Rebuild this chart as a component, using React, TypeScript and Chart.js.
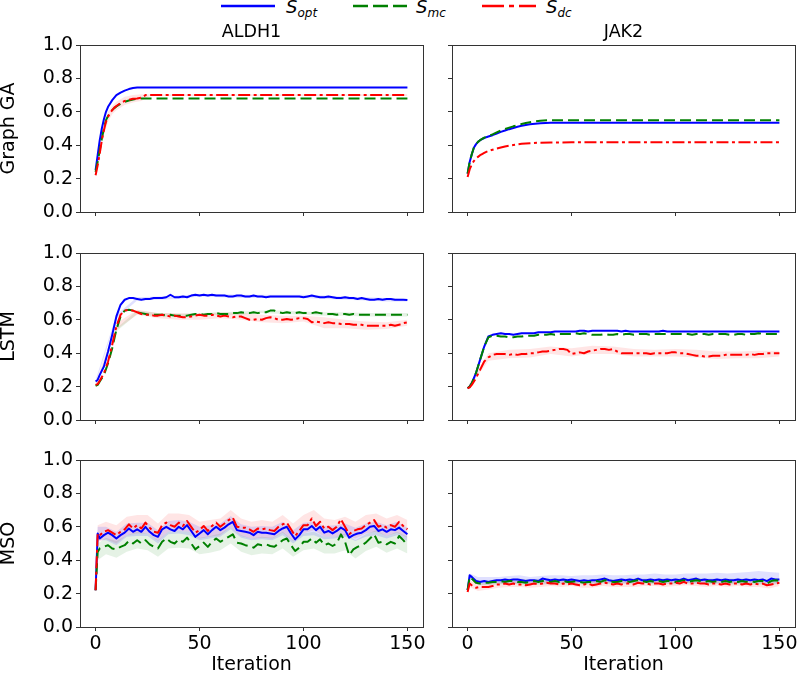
import React, { useEffect, useRef } from "react";
import { Chart, registerables } from "chart.js";

Chart.register(...registerables);

const FONT = "DejaVu Sans";

// ---------- labels ----------
const METHODS = ["Graph GA", "LSTM", "MSO"];
const TARGETS = ["ALDH1", "JAK2"];
const X_TITLE = "Iteration";
const X_TICKS = [0, 50, 100, 150];
const Y_TICKS = [0, 0.2, 0.4, 0.6, 0.8, 1.0];

// ---------- iteration grids ----------
const GA_ITER = [0, 1, 2, 3, 4, 5, 6, 7, 8, 9, 10, 12, 14, 16, 18, 20, 22, 24, 26, 28, 30, 35, 40, 50, 75, 100, 125, 150];
const FINE_ITER = [0, 1, 2, 4, 6, 8, 10, 12, 14, 16, 18, 20, 22, 24, 26, 28, 30, 32, 34, 36, 38, 40, 42, 44, 46, 48, 50, 52, 54, 56, 58, 60, 62, 64, 66, 68, 70, 72, 74, 76, 78, 80, 82, 84, 86, 88, 90, 92, 94, 96, 98, 100, 102, 104, 106, 108, 110, 112, 114, 116, 118, 120, 122, 124, 126, 128, 130, 132, 134, 136, 138, 140, 142, 144, 146, 148, 150];
const GA_BAND_ITER = [0, 2, 4, 6, 8, 10, 14, 18, 22, 26, 30, 150];
const BAND5_ITER = [0, 1, 5, 10, 15, 20, 25, 30, 35, 40, 45, 50, 55, 60, 65, 70, 75, 80, 85, 90, 95, 100, 105, 110, 115, 120, 125, 130, 135, 140, 145, 150];
const BAND10_ITER = [0, 10, 20, 30, 40, 50, 60, 70, 80, 90, 100, 110, 120, 130, 140, 150];

// ---------- Graph GA / ALDH1 ----------
const GA_ALDH1_OPT = [0.25, 0.34, 0.43, 0.5, 0.555, 0.6, 0.63, 0.65, 0.67, 0.685, 0.7, 0.715, 0.727, 0.736, 0.742, 0.745, 0.746, 0.746, 0.746, 0.746, 0.746, 0.746, 0.746, 0.746, 0.746, 0.746, 0.746, 0.746];
const GA_ALDH1_MC = [0.24, 0.3, 0.37, 0.44, 0.5, 0.55, 0.575, 0.595, 0.61, 0.622, 0.632, 0.648, 0.66, 0.668, 0.674, 0.678, 0.68, 0.68, 0.68, 0.68, 0.68, 0.68, 0.68, 0.68, 0.68, 0.68, 0.68, 0.68];
const GA_ALDH1_DC = [0.22, 0.28, 0.35, 0.43, 0.49, 0.54, 0.57, 0.595, 0.61, 0.625, 0.635, 0.652, 0.665, 0.672, 0.678, 0.68, 0.685, 0.7, 0.7, 0.7, 0.7, 0.7, 0.7, 0.7, 0.7, 0.7, 0.7, 0.7];
const GA_ALDH1_DC_HI = [0.23, 0.37, 0.52, 0.6, 0.635, 0.66, 0.69, 0.7, 0.705, 0.705, 0.705, 0.705];
const GA_ALDH1_DC_LO = [0.21, 0.33, 0.46, 0.54, 0.585, 0.61, 0.64, 0.655, 0.665, 0.695, 0.695, 0.695];

// ---------- Graph GA / JAK2 ----------
const GA_JAK2_OPT = [0.23, 0.3, 0.345, 0.385, 0.405, 0.42, 0.43, 0.437, 0.443, 0.448, 0.452, 0.46, 0.47, 0.48, 0.488, 0.496, 0.503, 0.51, 0.516, 0.521, 0.525, 0.532, 0.535, 0.535, 0.535, 0.535, 0.535, 0.535];
const GA_JAK2_MC = [0.23, 0.3, 0.345, 0.385, 0.405, 0.42, 0.43, 0.438, 0.445, 0.45, 0.455, 0.465, 0.477, 0.488, 0.497, 0.505, 0.513, 0.52, 0.527, 0.533, 0.538, 0.547, 0.55, 0.55, 0.55, 0.55, 0.55, 0.55];
const GA_JAK2_DC = [0.21, 0.255, 0.285, 0.305, 0.32, 0.33, 0.34, 0.347, 0.354, 0.36, 0.365, 0.373, 0.38, 0.386, 0.392, 0.397, 0.401, 0.405, 0.408, 0.41, 0.412, 0.415, 0.416, 0.417, 0.417, 0.417, 0.417, 0.417];

// ---------- LSTM / ALDH1 ----------
const LSTM_ALDH1_OPT = [0.23, 0.24, 0.27, 0.32, 0.41, 0.51,
  0.62, 0.69, 0.72, 0.73, 0.73, 0.725, 0.72, 0.725, 0.725, 0.73,
  0.73, 0.73, 0.735, 0.75, 0.735, 0.735, 0.74, 0.735, 0.745, 0.75,
  0.745, 0.75, 0.745, 0.75, 0.745, 0.745, 0.745, 0.74, 0.74, 0.745,
  0.745, 0.74, 0.74, 0.745, 0.74, 0.74, 0.735, 0.74, 0.74, 0.74,
  0.74, 0.74, 0.74, 0.74, 0.74, 0.735, 0.74, 0.745, 0.74, 0.735,
  0.735, 0.74, 0.735, 0.73, 0.73, 0.735, 0.73, 0.73, 0.725, 0.73,
  0.725, 0.72, 0.72, 0.725, 0.72, 0.725, 0.725, 0.72, 0.72, 0.72, 0.718];
const LSTM_ALDH1_MC = [0.205, 0.21, 0.23, 0.27, 0.34, 0.43,
  0.54, 0.62, 0.655, 0.66, 0.655, 0.645, 0.64, 0.635, 0.63, 0.63,
  0.63, 0.63, 0.625, 0.63, 0.625, 0.625, 0.625, 0.625, 0.63, 0.635,
  0.635, 0.63, 0.635, 0.635, 0.64, 0.635, 0.635, 0.635, 0.64, 0.64,
  0.645, 0.64, 0.64, 0.645, 0.64, 0.645, 0.645, 0.655, 0.655, 0.645,
  0.64, 0.645, 0.64, 0.64, 0.645, 0.64, 0.64, 0.64, 0.645, 0.64,
  0.635, 0.635, 0.635, 0.63, 0.635, 0.635, 0.63, 0.635, 0.63, 0.63,
  0.63, 0.63, 0.63, 0.63, 0.63, 0.63, 0.63, 0.63, 0.63, 0.63, 0.63];
const LSTM_ALDH1_DC = [0.21, 0.215, 0.235, 0.28, 0.35, 0.45,
  0.56, 0.63, 0.655, 0.66, 0.655, 0.645, 0.635, 0.63, 0.63, 0.625,
  0.625, 0.63, 0.625, 0.62, 0.625, 0.62, 0.615, 0.615, 0.62, 0.625,
  0.63, 0.625, 0.625, 0.63, 0.625, 0.62, 0.625, 0.62, 0.615, 0.62,
  0.62, 0.61, 0.6, 0.6, 0.605, 0.6, 0.61, 0.615, 0.61, 0.6,
  0.6, 0.605, 0.6, 0.605, 0.61, 0.61, 0.605, 0.585, 0.59, 0.585,
  0.58, 0.585, 0.58, 0.58, 0.575, 0.575, 0.575, 0.57, 0.57, 0.57,
  0.565, 0.565, 0.565, 0.565, 0.565, 0.565, 0.57, 0.565, 0.57, 0.58, 0.585];
const LSTM_ALDH1_OPT_HI = [0.24, 0.63, 0.735, 0.74, 0.745, 0.755, 0.755, 0.75, 0.75, 0.75, 0.75, 0.745, 0.74, 0.735, 0.73, 0.725];
const LSTM_ALDH1_OPT_LO = [0.22, 0.61, 0.715, 0.72, 0.725, 0.74, 0.735, 0.73, 0.73, 0.73, 0.73, 0.725, 0.72, 0.715, 0.71, 0.71];
const LSTM_ALDH1_MC_HI = [0.21, 0.55, 0.655, 0.64, 0.635, 0.64, 0.645, 0.65, 0.655, 0.655, 0.65, 0.645, 0.645, 0.64, 0.64, 0.64];
const LSTM_ALDH1_MC_LO = [0.2, 0.53, 0.635, 0.62, 0.615, 0.625, 0.63, 0.63, 0.64, 0.635, 0.63, 0.625, 0.625, 0.62, 0.62, 0.62];
const LSTM_ALDH1_DC_HI = [0.22, 0.58, 0.66, 0.64, 0.64, 0.635, 0.645, 0.64, 0.63, 0.625, 0.625, 0.615, 0.6, 0.59, 0.585, 0.6];
const LSTM_ALDH1_DC_LO = [0.2, 0.54, 0.63, 0.61, 0.6, 0.6, 0.61, 0.6, 0.585, 0.58, 0.59, 0.55, 0.55, 0.54, 0.545, 0.565];

// ---------- LSTM / JAK2 ----------
const LSTM_JAK2_OPT = [0.19, 0.2, 0.22, 0.28, 0.36, 0.44,
  0.5, 0.51, 0.515, 0.52, 0.515, 0.515, 0.51, 0.515, 0.52, 0.52,
  0.52, 0.52, 0.525, 0.525, 0.525, 0.525, 0.53, 0.53, 0.53, 0.53,
  0.53, 0.53, 0.535, 0.535, 0.53, 0.535, 0.535, 0.535, 0.535, 0.535,
  0.535, 0.535, 0.53, 0.535, 0.53, 0.53, 0.53, 0.53, 0.53, 0.53,
  0.53, 0.53, 0.535, 0.53, 0.53, 0.53, 0.53, 0.53, 0.53, 0.53,
  0.53, 0.53, 0.53, 0.53, 0.53, 0.53, 0.53, 0.53, 0.53, 0.53,
  0.53, 0.53, 0.53, 0.53, 0.53, 0.53, 0.53, 0.53, 0.53, 0.53, 0.53];
const LSTM_JAK2_MC = [0.19, 0.2, 0.22, 0.28, 0.36, 0.44,
  0.495, 0.505, 0.505, 0.5, 0.5, 0.495, 0.495, 0.5, 0.5, 0.505,
  0.505, 0.505, 0.51, 0.51, 0.51, 0.515, 0.51, 0.515, 0.515, 0.515,
  0.515, 0.52, 0.515, 0.52, 0.515, 0.51, 0.51, 0.51, 0.515, 0.51,
  0.51, 0.515, 0.51, 0.515, 0.515, 0.51, 0.515, 0.515, 0.515, 0.51,
  0.515, 0.515, 0.515, 0.515, 0.515, 0.515, 0.515, 0.515, 0.515, 0.51,
  0.515, 0.515, 0.515, 0.51, 0.515, 0.515, 0.515, 0.515, 0.51, 0.51,
  0.515, 0.515, 0.51, 0.515, 0.515, 0.52, 0.515, 0.515, 0.515, 0.515, 0.515];
const LSTM_JAK2_DC = [0.19, 0.195, 0.21, 0.25, 0.3, 0.35,
  0.375, 0.39, 0.395, 0.395, 0.395, 0.39, 0.395, 0.39, 0.395, 0.395,
  0.4, 0.4, 0.405, 0.41, 0.41, 0.415, 0.42, 0.425, 0.425, 0.42,
  0.395, 0.4, 0.405, 0.4, 0.41, 0.415, 0.42, 0.425, 0.425, 0.42,
  0.425, 0.41, 0.4, 0.4, 0.4, 0.4, 0.4, 0.4, 0.4, 0.395,
  0.4, 0.4, 0.4, 0.4, 0.405, 0.405, 0.4, 0.4, 0.395, 0.39,
  0.385, 0.385, 0.38, 0.38, 0.385, 0.385, 0.385, 0.39, 0.39, 0.39,
  0.39, 0.39, 0.39, 0.395, 0.39, 0.395, 0.395, 0.4, 0.4, 0.4, 0.4];
const LSTM_JAK2_DC_HI = [0.2, 0.4, 0.42, 0.425, 0.44, 0.43, 0.445, 0.44, 0.425, 0.42, 0.425, 0.42, 0.41, 0.41, 0.415, 0.415];
const LSTM_JAK2_DC_LO = [0.18, 0.355, 0.37, 0.375, 0.395, 0.38, 0.395, 0.395, 0.38, 0.38, 0.38, 0.375, 0.365, 0.37, 0.37, 0.38];

// ---------- MSO / ALDH1 ----------
const MSO_ALDH1_OPT = [0.22, 0.56, 0.53, 0.55, 0.565, 0.55,
  0.53, 0.55, 0.565, 0.59, 0.57, 0.585, 0.57, 0.6, 0.57, 0.55,
  0.54, 0.585, 0.6, 0.585, 0.575, 0.6, 0.585, 0.61, 0.575, 0.54,
  0.56, 0.58, 0.555, 0.58, 0.6, 0.58, 0.595, 0.615, 0.63, 0.58,
  0.575, 0.57, 0.565, 0.55, 0.57, 0.565, 0.565, 0.56, 0.555, 0.575,
  0.59, 0.6, 0.56, 0.525, 0.55, 0.585, 0.585, 0.605, 0.58, 0.6,
  0.565, 0.575, 0.56, 0.575, 0.595, 0.58, 0.535, 0.55, 0.56, 0.565,
  0.58, 0.6, 0.605, 0.575, 0.585, 0.57, 0.585, 0.58, 0.595, 0.575, 0.555];
const MSO_ALDH1_MC = [0.22, 0.45, 0.47, 0.48, 0.49, 0.47,
  0.465, 0.48, 0.49, 0.515, 0.5, 0.52, 0.5, 0.52, 0.495, 0.48,
  0.47, 0.51, 0.53, 0.51, 0.5, 0.525, 0.51, 0.535, 0.5, 0.465,
  0.485, 0.505, 0.48, 0.51, 0.53, 0.51, 0.525, 0.54, 0.555, 0.505,
  0.5, 0.49, 0.485, 0.475, 0.495, 0.49, 0.495, 0.485, 0.48, 0.5,
  0.52, 0.53, 0.49, 0.455, 0.475, 0.51, 0.51, 0.53, 0.505, 0.525,
  0.49, 0.5, 0.485, 0.5, 0.555, 0.51, 0.43, 0.465, 0.48, 0.49,
  0.505, 0.53, 0.555, 0.505, 0.51, 0.495, 0.51, 0.5, 0.545, 0.52, 0.49];
const MSO_ALDH1_DC = [0.22, 0.56, 0.55, 0.57, 0.58, 0.565,
  0.55, 0.57, 0.585, 0.615, 0.59, 0.61, 0.59, 0.625, 0.595, 0.57,
  0.565, 0.61, 0.625, 0.61, 0.6, 0.625, 0.605, 0.635, 0.6, 0.565,
  0.58, 0.605, 0.575, 0.605, 0.625, 0.6, 0.62, 0.64, 0.655, 0.6,
  0.595, 0.595, 0.585, 0.57, 0.59, 0.585, 0.59, 0.58, 0.575, 0.6,
  0.615, 0.625, 0.585, 0.545, 0.575, 0.61, 0.61, 0.65, 0.605, 0.63,
  0.59, 0.6, 0.58, 0.6, 0.645, 0.6, 0.555, 0.575, 0.585, 0.59,
  0.61, 0.625, 0.64, 0.6, 0.61, 0.595, 0.61, 0.6, 0.63, 0.605, 0.585];
const MSO_ALDH1_OPT_HI = [0.23, 0.6, 0.6, 0.57, 0.62, 0.625, 0.625, 0.58, 0.635, 0.64, 0.63, 0.6, 0.61, 0.62, 0.665, 0.615, 0.6, 0.605, 0.6, 0.63, 0.58, 0.625, 0.63, 0.605, 0.61, 0.62, 0.595, 0.62, 0.63, 0.61, 0.63, 0.595];
const MSO_ALDH1_OPT_LO = [0.21, 0.52, 0.52, 0.49, 0.54, 0.545, 0.545, 0.5, 0.555, 0.56, 0.55, 0.52, 0.53, 0.54, 0.585, 0.535, 0.52, 0.525, 0.52, 0.55, 0.5, 0.545, 0.55, 0.525, 0.53, 0.54, 0.515, 0.54, 0.55, 0.53, 0.55, 0.515];
const MSO_ALDH1_MC_HI = [0.23, 0.5, 0.535, 0.515, 0.55, 0.57, 0.56, 0.52, 0.57, 0.575, 0.57, 0.535, 0.545, 0.56, 0.6, 0.55, 0.53, 0.54, 0.535, 0.57, 0.52, 0.56, 0.57, 0.54, 0.54, 0.56, 0.52, 0.555, 0.58, 0.545, 0.57, 0.54];
const MSO_ALDH1_MC_LO = [0.21, 0.4, 0.435, 0.415, 0.45, 0.47, 0.46, 0.42, 0.47, 0.475, 0.47, 0.435, 0.445, 0.46, 0.5, 0.45, 0.43, 0.44, 0.435, 0.47, 0.42, 0.46, 0.47, 0.44, 0.44, 0.46, 0.41, 0.455, 0.48, 0.445, 0.47, 0.44];
const MSO_ALDH1_DC_HI = [0.23, 0.61, 0.63, 0.61, 0.66, 0.67, 0.67, 0.62, 0.68, 0.68, 0.67, 0.63, 0.64, 0.65, 0.7, 0.65, 0.63, 0.64, 0.63, 0.67, 0.62, 0.67, 0.7, 0.65, 0.64, 0.66, 0.63, 0.67, 0.68, 0.65, 0.67, 0.64];
const MSO_ALDH1_DC_LO = [0.21, 0.51, 0.525, 0.5, 0.55, 0.56, 0.56, 0.515, 0.57, 0.575, 0.57, 0.53, 0.54, 0.55, 0.6, 0.545, 0.53, 0.535, 0.53, 0.565, 0.515, 0.56, 0.58, 0.54, 0.54, 0.55, 0.53, 0.56, 0.57, 0.545, 0.565, 0.535];

// ---------- MSO / JAK2 ----------
const MSO_JAK2_OPT = [0.22, 0.31, 0.3, 0.275, 0.27, 0.275,
  0.27, 0.275, 0.28, 0.28, 0.285, 0.28, 0.285, 0.285, 0.28, 0.275,
  0.28, 0.28, 0.275, 0.29, 0.285, 0.28, 0.285, 0.28, 0.285, 0.28,
  0.285, 0.28, 0.275, 0.28, 0.275, 0.28, 0.28, 0.285, 0.29, 0.28,
  0.275, 0.28, 0.285, 0.28, 0.285, 0.28, 0.29, 0.28, 0.28, 0.285,
  0.28, 0.285, 0.28, 0.285, 0.28, 0.285, 0.28, 0.29, 0.28, 0.285,
  0.29, 0.28, 0.285, 0.28, 0.28, 0.285, 0.28, 0.285, 0.28, 0.28,
  0.285, 0.28, 0.285, 0.28, 0.285, 0.28, 0.285, 0.275, 0.29, 0.285, 0.285];
const MSO_JAK2_MC = [0.22, 0.3, 0.29, 0.265, 0.26, 0.265,
  0.265, 0.27, 0.27, 0.275, 0.27, 0.275, 0.275, 0.27, 0.27, 0.265,
  0.27, 0.275, 0.27, 0.275, 0.275, 0.27, 0.275, 0.27, 0.275, 0.27,
  0.27, 0.275, 0.27, 0.265, 0.27, 0.27, 0.275, 0.27, 0.28, 0.275,
  0.27, 0.27, 0.275, 0.275, 0.27, 0.275, 0.28, 0.275, 0.27, 0.275,
  0.27, 0.275, 0.27, 0.275, 0.275, 0.27, 0.275, 0.28, 0.27, 0.275,
  0.28, 0.275, 0.27, 0.275, 0.27, 0.275, 0.27, 0.275, 0.27, 0.275,
  0.27, 0.275, 0.27, 0.275, 0.27, 0.275, 0.275, 0.26, 0.275, 0.28, 0.275];
const MSO_JAK2_DC = [0.21, 0.26, 0.25, 0.235, 0.24, 0.24,
  0.24, 0.245, 0.255, 0.255, 0.26, 0.255, 0.26, 0.255, 0.255, 0.25,
  0.255, 0.26, 0.255, 0.26, 0.265, 0.26, 0.26, 0.255, 0.26, 0.255,
  0.26, 0.255, 0.25, 0.255, 0.26, 0.25, 0.255, 0.26, 0.265, 0.26,
  0.255, 0.26, 0.255, 0.26, 0.26, 0.255, 0.265, 0.26, 0.26, 0.255,
  0.26, 0.26, 0.255, 0.26, 0.26, 0.265, 0.26, 0.27, 0.26, 0.26,
  0.265, 0.26, 0.26, 0.255, 0.26, 0.26, 0.255, 0.26, 0.255, 0.26,
  0.26, 0.255, 0.26, 0.255, 0.26, 0.255, 0.26, 0.25, 0.255, 0.26, 0.265];
const MSO_JAK2_OPT_HI = [0.23, 0.32, 0.3, 0.3, 0.3, 0.305, 0.31, 0.3, 0.305, 0.31, 0.31, 0.305, 0.31, 0.31, 0.315, 0.31, 0.31, 0.315, 0.315, 0.32, 0.315, 0.315, 0.32, 0.32, 0.32, 0.325, 0.32, 0.325, 0.33, 0.335, 0.33, 0.325];
const MSO_JAK2_OPT_LO = [0.21, 0.29, 0.255, 0.255, 0.26, 0.26, 0.26, 0.26, 0.26, 0.26, 0.265, 0.26, 0.26, 0.26, 0.265, 0.26, 0.26, 0.26, 0.265, 0.26, 0.26, 0.26, 0.265, 0.26, 0.26, 0.26, 0.26, 0.26, 0.26, 0.26, 0.26, 0.26];
const MSO_JAK2_MC_HI = [0.23, 0.31, 0.28, 0.28, 0.285, 0.29, 0.29, 0.285, 0.29, 0.29, 0.29, 0.285, 0.285, 0.285, 0.295, 0.285, 0.29, 0.29, 0.29, 0.29, 0.29, 0.29, 0.295, 0.295, 0.29, 0.29, 0.29, 0.29, 0.29, 0.29, 0.285, 0.29];
const MSO_JAK2_MC_LO = [0.21, 0.29, 0.25, 0.25, 0.255, 0.26, 0.255, 0.25, 0.255, 0.255, 0.255, 0.255, 0.255, 0.255, 0.26, 0.255, 0.26, 0.26, 0.26, 0.255, 0.26, 0.255, 0.26, 0.26, 0.255, 0.26, 0.255, 0.255, 0.255, 0.255, 0.245, 0.26];
const MSO_JAK2_DC_HI = [0.22, 0.28, 0.26, 0.26, 0.27, 0.275, 0.275, 0.27, 0.275, 0.275, 0.275, 0.275, 0.27, 0.275, 0.28, 0.275, 0.275, 0.275, 0.28, 0.275, 0.275, 0.28, 0.285, 0.28, 0.275, 0.28, 0.275, 0.28, 0.275, 0.275, 0.27, 0.28];
const MSO_JAK2_DC_LO = [0.2, 0.24, 0.215, 0.225, 0.235, 0.24, 0.24, 0.235, 0.24, 0.245, 0.24, 0.245, 0.235, 0.235, 0.245, 0.24, 0.24, 0.24, 0.245, 0.245, 0.24, 0.245, 0.25, 0.245, 0.24, 0.245, 0.24, 0.245, 0.24, 0.24, 0.23, 0.245];

// ---------- styles ----------
const C_OPT = "#0000ff";
const C_MC = "#008000";
const C_DC = "#ff0000";
const B_OPT = "rgba(0,0,255,0.12)";
const B_MC = "rgba(0,128,0,0.10)";
const B_DC = "rgba(255,0,0,0.10)";
const DASH_MC = [11, 5];
const DASH_DC = [12, 3.5, 3, 3.5];

type Band = { iter: number[]; hi: number[]; lo: number[]; color: string };
type PanelData = { iter: number[]; opt: number[]; mc: number[]; dc: number[]; bands: Band[] };

const PANELS: PanelData[][] = [
  [
    { iter: GA_ITER, opt: GA_ALDH1_OPT, mc: GA_ALDH1_MC, dc: GA_ALDH1_DC,
      bands: [{ iter: GA_BAND_ITER, hi: GA_ALDH1_DC_HI, lo: GA_ALDH1_DC_LO, color: B_DC }] },
    { iter: GA_ITER, opt: GA_JAK2_OPT, mc: GA_JAK2_MC, dc: GA_JAK2_DC, bands: [] },
  ],
  [
    { iter: FINE_ITER, opt: LSTM_ALDH1_OPT, mc: LSTM_ALDH1_MC, dc: LSTM_ALDH1_DC,
      bands: [
        { iter: BAND10_ITER, hi: LSTM_ALDH1_OPT_HI, lo: LSTM_ALDH1_OPT_LO, color: B_OPT },
        { iter: BAND10_ITER, hi: LSTM_ALDH1_MC_HI, lo: LSTM_ALDH1_MC_LO, color: B_MC },
        { iter: BAND10_ITER, hi: LSTM_ALDH1_DC_HI, lo: LSTM_ALDH1_DC_LO, color: B_DC },
      ] },
    { iter: FINE_ITER, opt: LSTM_JAK2_OPT, mc: LSTM_JAK2_MC, dc: LSTM_JAK2_DC,
      bands: [{ iter: BAND10_ITER, hi: LSTM_JAK2_DC_HI, lo: LSTM_JAK2_DC_LO, color: B_DC }] },
  ],
  [
    { iter: FINE_ITER, opt: MSO_ALDH1_OPT, mc: MSO_ALDH1_MC, dc: MSO_ALDH1_DC,
      bands: [
        { iter: BAND5_ITER, hi: MSO_ALDH1_OPT_HI, lo: MSO_ALDH1_OPT_LO, color: B_OPT },
        { iter: BAND5_ITER, hi: MSO_ALDH1_MC_HI, lo: MSO_ALDH1_MC_LO, color: B_MC },
        { iter: BAND5_ITER, hi: MSO_ALDH1_DC_HI, lo: MSO_ALDH1_DC_LO, color: B_DC },
      ] },
    { iter: FINE_ITER, opt: MSO_JAK2_OPT, mc: MSO_JAK2_MC, dc: MSO_JAK2_DC,
      bands: [
        { iter: BAND5_ITER, hi: MSO_JAK2_OPT_HI, lo: MSO_JAK2_OPT_LO, color: B_OPT },
        { iter: BAND5_ITER, hi: MSO_JAK2_MC_HI, lo: MSO_JAK2_MC_LO, color: B_MC },
        { iter: BAND5_ITER, hi: MSO_JAK2_DC_HI, lo: MSO_JAK2_DC_LO, color: B_DC },
      ] },
  ],
];

// ---------- layout ----------
const COL_GEOM = [
  { left: 0, yw: 80, w: 431, padRight: 8 },
  { left: 412, yw: 40, w: 385, padRight: 2 },
];
const ROW_GEOM = [
  { top: 8, padTop: 37, xh: 10, h: 214 },
  { top: 238, padTop: 15, xh: 10, h: 192 },
  { top: 445, padTop: 15, xh: 46, h: 228 },
];

const zip = (xs: number[], ys: number[]) => xs.map((x, i) => ({ x, y: ys[i] }));

const framePlugin = {
  id: "frame",
  afterDraw(chart: any) {
    const { ctx, chartArea: a } = chart;
    ctx.save();
    ctx.strokeStyle = "#333";
    ctx.lineWidth = 1;
    ctx.strokeRect(Math.round(a.left) + 0.5, Math.round(a.top) + 0.5, Math.round(a.right - a.left), Math.round(a.bottom - a.top));
    ctx.restore();
  },
};

const panelTitlePlugin = {
  id: "panelTitle",
  afterDraw(chart: any, _args: any, opts: any) {
    if (!opts || !opts.text) return;
    const { ctx, chartArea: a } = chart;
    ctx.save();
    ctx.font = `${opts.size}px "${FONT}"`;
    ctx.fillStyle = "#000";
    ctx.textAlign = "center";
    ctx.textBaseline = "middle";
    ctx.fillText(opts.text, (a.left + a.right) / 2, a.top - opts.offset);
    ctx.restore();
  },
};

function makeConfig(row: number, col: number): any {
  const p = PANELS[row][col];
  const cg = COL_GEOM[col];
  const rg = ROW_GEOM[row];
  const isLeft = col === 0;
  const isBottom = row === 2;
  const datasets: any[] = [];
  p.bands.forEach((b) => {
    datasets.push({ data: zip(b.iter, b.hi), borderWidth: 0, borderColor: "rgba(0,0,0,0)", pointRadius: 0, backgroundColor: b.color, fill: "+1", order: 5 });
    datasets.push({ data: zip(b.iter, b.lo), borderWidth: 0, borderColor: "rgba(0,0,0,0)", pointRadius: 0, fill: false, order: 5 });
  });
  datasets.push({ label: "S_opt", data: zip(p.iter, p.opt), borderColor: C_OPT, borderWidth: 2, pointRadius: 0, fill: false, order: 2, borderCapStyle: "butt", borderJoinStyle: "round" });
  datasets.push({ label: "S_mc", data: zip(p.iter, p.mc), borderColor: C_MC, borderWidth: 2, borderDash: DASH_MC, pointRadius: 0, fill: false, order: 1, borderCapStyle: "butt", borderJoinStyle: "round" });
  datasets.push({ label: "S_dc", data: zip(p.iter, p.dc), borderColor: C_DC, borderWidth: 2, borderDash: DASH_DC, pointRadius: 0, fill: false, order: 0, borderCapStyle: "butt", borderJoinStyle: "round" });

  return {
    type: "line",
    data: { datasets },
    plugins: [framePlugin, panelTitlePlugin],
    options: {
      responsive: false,
      maintainAspectRatio: false,
      animation: false,
      devicePixelRatio: 1,
      events: [],
      layout: { padding: { left: 0, right: cg.padRight, top: rg.padTop, bottom: 0 } },
      plugins: {
        legend: { display: false },
        tooltip: { enabled: false },
        panelTitle: { text: row === 0 ? TARGETS[col] : "", size: 17.5, offset: 12.5 },
      },
      scales: {
        x: {
          type: "linear",
          min: -7.5,
          max: 157.5,
          afterBuildTicks: (s: any) => { s.ticks = X_TICKS.map((v) => ({ value: v })); },
          ticks: { display: isBottom, font: { family: FONT, size: 19 }, color: "#000", padding: 2, maxRotation: 0, autoSkip: false },
          grid: { drawOnChartArea: false, drawTicks: true, tickLength: 4, color: "#333" },
          border: { display: true, color: "#333", width: 1 },
          title: { display: isBottom, text: X_TITLE, font: { family: FONT, size: 19 }, color: "#000", padding: { top: 0, bottom: -3 } },
          afterFit: (s: any) => { s.height = rg.xh; s.paddingLeft = 0; s.paddingRight = 0; },
        },
        y: {
          type: "linear",
          min: 0,
          max: 1,
          afterBuildTicks: (s: any) => { s.ticks = Y_TICKS.map((v) => ({ value: v })); },
          ticks: { display: isLeft, font: { family: FONT, size: 19 }, color: "#000", padding: 3, autoSkip: false, callback: (v: any) => Number(v).toFixed(1) },
          grid: { drawOnChartArea: false, drawTicks: true, tickLength: 4, color: "#333" },
          border: { display: true, color: "#333", width: 1 },
          title: { display: isLeft, text: METHODS[row], font: { family: FONT, size: 19 }, color: "#000", padding: { top: -2, bottom: 0 } },
          afterFit: (s: any) => { s.width = cg.yw; s.paddingTop = 0; s.paddingBottom = 0; },
        },
      },
    },
  };
}

function Panel({ row, col }: { row: number; col: number }) {
  const ref = useRef<HTMLCanvasElement>(null);
  const cg = COL_GEOM[col];
  const rg = ROW_GEOM[row];
  useEffect(() => {
    const chart = new Chart(ref.current as HTMLCanvasElement, makeConfig(row, col));
    return () => chart.destroy();
  }, [row, col]);
  return (
    <canvas
      ref={ref}
      width={cg.w}
      height={rg.h}
      style={{ position: "absolute", left: cg.left, top: rg.top, width: cg.w, height: rg.h }}
    />
  );
}

const LEGEND_ITEMS = [
  { main: "S", sub: "opt", color: C_OPT, dash: "", lineLeft: 220, textLeft: 286 },
  { main: "S", sub: "mc", color: C_MC, dash: "15 5", lineLeft: 352, textLeft: 416 },
  { main: "S", sub: "dc", color: C_DC, dash: "22 5 5 5", lineLeft: 481, textLeft: 546 },
];

function Legend() {
  return (
    <>
      {LEGEND_ITEMS.map((it, i) => (
        <React.Fragment key={i}>
          <svg style={{ position: "absolute", left: it.lineLeft, top: 1 }} width={56} height={10}>
            <line x1={1} y1={5} x2={55} y2={5} stroke={it.color} strokeWidth={2.6} strokeDasharray={it.dash || undefined} />
          </svg>
          <div style={{ position: "absolute", left: it.textLeft, top: -2, fontFamily: FONT, fontSize: 18, lineHeight: "18px", fontStyle: "italic", whiteSpace: "nowrap", color: "#000" }}>
            {it.main}
            <span style={{ fontSize: 12, position: "relative", top: 4 }}>{it.sub}</span>
          </div>
        </React.Fragment>
      ))}
    </>
  );
}

export default function App() {
  return (
    <div style={{ position: "absolute", left: 0, top: 0, width: 797, height: 673, background: "#fff", overflow: "hidden" }}>
      <Legend />
      {[0, 1, 2].map((r) => [0, 1].map((c) => <Panel key={`${r}-${c}`} row={r} col={c} />))}
    </div>
  );
}
